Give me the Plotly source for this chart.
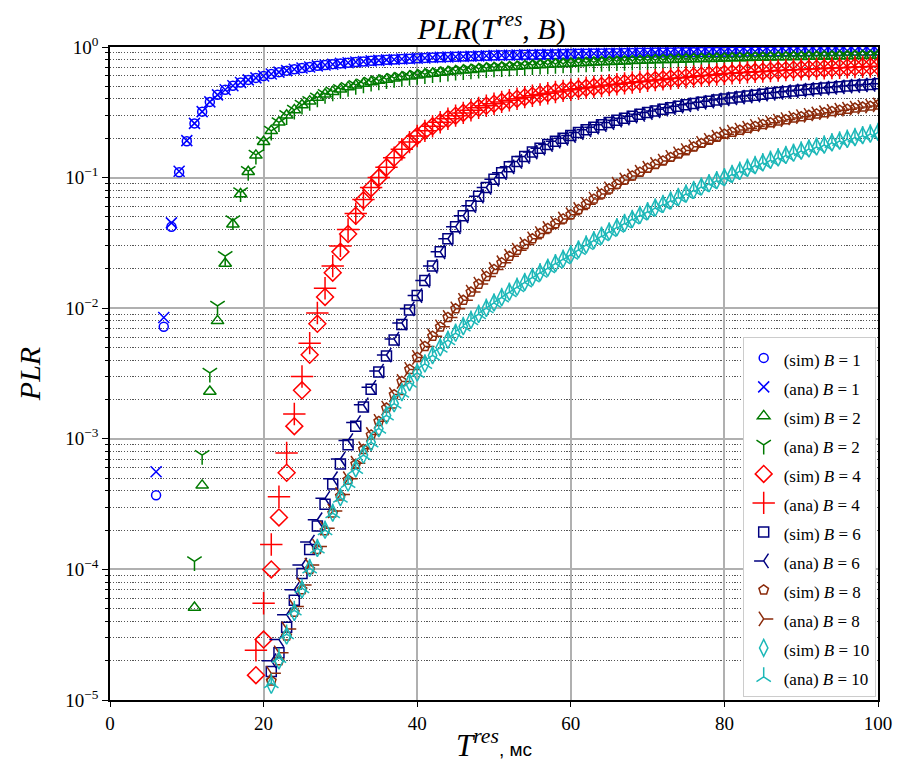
import plotly.graph_objects as go

# ---------------- data ----------------
t_b1 = list(range(6, 101))
t_b2 = list(range(11, 101))
t_b4 = list(range(19, 101))
t_b6 = list(range(21, 101))
t_b8 = list(range(21, 101))
t_b10 = list(range(21, 101))

sim_b1 = [0.00037, 0.0072, 0.042, 0.11, 0.19,
          0.26, 0.32, 0.38, 0.43, 0.47, 0.505, 0.535, 0.56, 0.58, 0.60,
          0.622, 0.642, 0.659, 0.676, 0.691, 0.704, 0.717, 0.728, 0.739, 0.749,
          0.758, 0.767, 0.775, 0.783, 0.790, 0.797, 0.803, 0.809, 0.814, 0.820,
          0.825, 0.830, 0.834, 0.839, 0.843, 0.847, 0.850, 0.854, 0.857, 0.861,
          0.864, 0.866, 0.869, 0.871, 0.873, 0.876, 0.878, 0.880, 0.882, 0.885,
          0.887, 0.889, 0.891, 0.893, 0.895, 0.897, 0.899, 0.901, 0.903, 0.905,
          0.906, 0.908, 0.909, 0.911, 0.912, 0.913, 0.915, 0.916, 0.917, 0.919,
          0.920, 0.921, 0.922, 0.923, 0.924, 0.925, 0.926, 0.927, 0.928, 0.929,
          0.930, 0.931, 0.932, 0.932, 0.933, 0.934, 0.935, 0.935, 0.936, 0.937]
ana_b1 = [0.00056, 0.0085, 0.045, 0.112, 0.192,
          0.26, 0.32, 0.38, 0.43, 0.47, 0.505, 0.535, 0.56, 0.58, 0.60,
          0.622, 0.642, 0.659, 0.676, 0.691, 0.704, 0.717, 0.728, 0.739, 0.749,
          0.758, 0.767, 0.775, 0.783, 0.790, 0.797, 0.803, 0.809, 0.814, 0.820,
          0.825, 0.830, 0.834, 0.839, 0.843, 0.847, 0.850, 0.854, 0.857, 0.861,
          0.864, 0.866, 0.869, 0.871, 0.873, 0.876, 0.878, 0.880, 0.882, 0.885,
          0.887, 0.889, 0.891, 0.893, 0.895, 0.897, 0.899, 0.901, 0.903, 0.905,
          0.906, 0.908, 0.909, 0.911, 0.912, 0.913, 0.915, 0.916, 0.917, 0.919,
          0.920, 0.921, 0.922, 0.923, 0.924, 0.925, 0.926, 0.927, 0.928, 0.929,
          0.930, 0.931, 0.932, 0.932, 0.933, 0.934, 0.935, 0.935, 0.936, 0.937]

sim_b2 = [0.000051, 0.00044, 0.0023, 0.0080, 0.022, 0.044, 0.075, 0.111, 0.148, 0.188,
          0.228, 0.265, 0.300, 0.330, 0.360, 0.385, 0.410, 0.435, 0.455, 0.475,
          0.493, 0.510, 0.525, 0.540, 0.553, 0.565, 0.577, 0.588, 0.598, 0.608,
          0.618, 0.628, 0.637, 0.646, 0.655, 0.663, 0.671, 0.679, 0.687, 0.694,
          0.699, 0.704, 0.710, 0.717, 0.722, 0.728, 0.733, 0.739, 0.744, 0.749,
          0.754, 0.758, 0.763, 0.767, 0.771, 0.775, 0.779, 0.783, 0.787, 0.790,
          0.794, 0.797, 0.800, 0.803, 0.806, 0.809, 0.812, 0.814, 0.817, 0.820,
          0.823, 0.825, 0.828, 0.830, 0.832, 0.834, 0.837, 0.839, 0.841, 0.843,
          0.845, 0.847, 0.849, 0.850, 0.852, 0.854, 0.856, 0.857, 0.859, 0.861]
ana_b2 = [0.000115, 0.00075, 0.0032, 0.0104, 0.025, 0.047, 0.077, 0.112, 0.149, 0.189,
          0.228, 0.265, 0.300, 0.330, 0.360, 0.385, 0.410, 0.435, 0.455, 0.475,
          0.493, 0.510, 0.525, 0.540, 0.553, 0.565, 0.577, 0.588, 0.598, 0.608,
          0.618, 0.628, 0.637, 0.646, 0.655, 0.663, 0.671, 0.679, 0.687, 0.694,
          0.699, 0.704, 0.710, 0.717, 0.722, 0.728, 0.733, 0.739, 0.744, 0.749,
          0.754, 0.758, 0.763, 0.767, 0.771, 0.775, 0.779, 0.783, 0.787, 0.790,
          0.794, 0.797, 0.800, 0.803, 0.806, 0.809, 0.812, 0.814, 0.817, 0.820,
          0.823, 0.825, 0.828, 0.830, 0.832, 0.834, 0.837, 0.839, 0.841, 0.843,
          0.845, 0.847, 0.849, 0.850, 0.852, 0.854, 0.856, 0.857, 0.859, 0.861]

sim_b4 = [0.0000155, 0.000029,
          0.00010, 0.00025, 0.00055, 0.00125, 0.00235, 0.0044, 0.0076, 0.0122, 0.0187, 0.027,
          0.037, 0.051, 0.067, 0.083, 0.100, 0.120, 0.142, 0.165, 0.187, 0.208,
          0.228, 0.247, 0.265, 0.282, 0.298, 0.313, 0.328, 0.342, 0.355, 0.368,
          0.380, 0.391, 0.402, 0.413, 0.423, 0.433, 0.443, 0.452, 0.461, 0.470,
          0.478, 0.487, 0.495, 0.503, 0.511, 0.519, 0.527, 0.535, 0.542, 0.550,
          0.558, 0.565, 0.573, 0.580, 0.587, 0.595, 0.602, 0.609, 0.616, 0.623,
          0.629, 0.635, 0.640, 0.645, 0.650, 0.655, 0.660, 0.665, 0.670, 0.674,
          0.678, 0.682, 0.686, 0.690, 0.694, 0.698, 0.702, 0.705, 0.708, 0.712]
ana_b4 = [0.000024, 0.000055,
          0.000155, 0.00036, 0.00078, 0.00155, 0.0030, 0.0054, 0.0092, 0.0142, 0.021, 0.030,
          0.040, 0.053, 0.068, 0.084, 0.100, 0.120, 0.142, 0.165, 0.187, 0.208,
          0.228, 0.247, 0.265, 0.282, 0.298, 0.313, 0.328, 0.342, 0.355, 0.368,
          0.380, 0.391, 0.402, 0.413, 0.423, 0.433, 0.443, 0.452, 0.461, 0.470,
          0.478, 0.487, 0.495, 0.503, 0.511, 0.519, 0.527, 0.535, 0.542, 0.550,
          0.558, 0.565, 0.573, 0.580, 0.587, 0.595, 0.602, 0.609, 0.616, 0.623,
          0.629, 0.635, 0.640, 0.645, 0.650, 0.655, 0.660, 0.665, 0.670, 0.674,
          0.678, 0.682, 0.686, 0.690, 0.694, 0.698, 0.702, 0.705, 0.708, 0.712]

sim_b6 = [0.0000165, 0.000023, 0.000036, 0.000058, 0.000093, 0.000142, 0.000215, 0.000315, 0.00045, 0.00064,
          0.0009, 0.00125, 0.00175, 0.0024, 0.00325, 0.0043, 0.0057, 0.0075, 0.0097, 0.0125,
          0.0163, 0.021, 0.027, 0.034, 0.042, 0.051, 0.061, 0.072, 0.084, 0.097,
          0.109, 0.121, 0.133, 0.145, 0.157, 0.168, 0.179, 0.190, 0.200, 0.210,
          0.221, 0.232, 0.243, 0.254, 0.264, 0.275, 0.285, 0.295, 0.305, 0.315,
          0.324, 0.334, 0.343, 0.352, 0.361, 0.369, 0.377, 0.385, 0.393, 0.400,
          0.407, 0.414, 0.421, 0.428, 0.435, 0.442, 0.449, 0.455, 0.461, 0.467,
          0.473, 0.479, 0.485, 0.490, 0.496, 0.502, 0.507, 0.512, 0.517, 0.522]
ana_b6 = [0.000020, 0.000029, 0.000045, 0.000070, 0.000108, 0.000162, 0.00024, 0.00035, 0.000495, 0.0007,
          0.00097, 0.00133, 0.00182, 0.00248, 0.0033, 0.00438, 0.0058, 0.0077, 0.0099, 0.0125,
          0.0163, 0.021, 0.027, 0.034, 0.042, 0.051, 0.061, 0.072, 0.084, 0.097,
          0.109, 0.121, 0.133, 0.145, 0.157, 0.168, 0.179, 0.190, 0.200, 0.210,
          0.221, 0.232, 0.243, 0.254, 0.264, 0.275, 0.285, 0.295, 0.305, 0.315,
          0.324, 0.334, 0.343, 0.352, 0.361, 0.369, 0.377, 0.385, 0.393, 0.400,
          0.407, 0.414, 0.421, 0.428, 0.435, 0.442, 0.449, 0.455, 0.461, 0.467,
          0.473, 0.479, 0.485, 0.490, 0.496, 0.502, 0.507, 0.512, 0.517, 0.522]

sim_b8 = [0.000014, 0.000020, 0.000031, 0.000047, 0.000070, 0.00010, 0.000142, 0.000198, 0.00027, 0.000365,
          0.000485, 0.00064, 0.00083, 0.00107, 0.00136, 0.00172, 0.00218, 0.00275, 0.0034, 0.0042,
          0.0051, 0.0061, 0.0072, 0.0085, 0.0099, 0.0115, 0.0133, 0.0153, 0.0175, 0.0198,
          0.0223, 0.025, 0.0278, 0.0308, 0.034, 0.0373, 0.0408, 0.0444, 0.0482, 0.052,
          0.057, 0.0625, 0.0685, 0.075, 0.082, 0.089, 0.096, 0.103, 0.110, 0.118,
          0.126, 0.134, 0.143, 0.152, 0.161, 0.172, 0.183, 0.193, 0.204, 0.215,
          0.223, 0.231, 0.239, 0.247, 0.255, 0.263, 0.271, 0.278, 0.286, 0.293,
          0.300, 0.307, 0.314, 0.321, 0.328, 0.334, 0.341, 0.347, 0.353, 0.360]
ana_b8 = [0.000016, 0.000023, 0.000035, 0.000052, 0.000076, 0.000108, 0.00015, 0.000207, 0.00028, 0.000375,
          0.000495, 0.00065, 0.00084, 0.00108, 0.00136, 0.00172, 0.00218, 0.00275, 0.0034, 0.0042,
          0.0051, 0.0061, 0.0072, 0.0085, 0.0099, 0.0115, 0.0133, 0.0153, 0.0175, 0.0198,
          0.0223, 0.025, 0.0278, 0.0308, 0.034, 0.0373, 0.0408, 0.0444, 0.0482, 0.052,
          0.057, 0.0625, 0.0685, 0.075, 0.082, 0.089, 0.096, 0.103, 0.110, 0.118,
          0.126, 0.134, 0.143, 0.152, 0.161, 0.172, 0.183, 0.193, 0.204, 0.215,
          0.223, 0.231, 0.239, 0.247, 0.255, 0.263, 0.271, 0.278, 0.286, 0.293,
          0.300, 0.307, 0.314, 0.321, 0.328, 0.334, 0.341, 0.347, 0.353, 0.360]

sim_b10 = [0.000013, 0.000020, 0.000031, 0.000047, 0.000070, 0.000102, 0.000145, 0.00020, 0.00027, 0.000355,
           0.00046, 0.00059, 0.00075, 0.00094, 0.0012, 0.00151, 0.00186, 0.00226, 0.0027, 0.0032,
           0.00375, 0.00435, 0.0050, 0.0057, 0.00645, 0.00725, 0.0081, 0.0090, 0.0100, 0.0110,
           0.0121, 0.0133, 0.0145, 0.0158, 0.0172, 0.0187, 0.0203, 0.0220, 0.0238, 0.0257,
           0.028, 0.0305, 0.033, 0.0357, 0.0385, 0.0415, 0.0447, 0.048, 0.0515, 0.055,
           0.0587, 0.0625, 0.0665, 0.0706, 0.075, 0.080, 0.085, 0.090, 0.095, 0.100,
           0.106, 0.112, 0.118, 0.124, 0.130, 0.136, 0.142, 0.148, 0.154, 0.160,
           0.166, 0.172, 0.178, 0.185, 0.191, 0.197, 0.203, 0.210, 0.216, 0.222]
ana_b10 = [0.0000135, 0.000021, 0.000032, 0.0000485, 0.000072, 0.000102, 0.000145, 0.00020, 0.00027, 0.000355,
           0.00046, 0.00059, 0.00075, 0.00094, 0.0012, 0.00151, 0.00186, 0.00226, 0.0027, 0.0032,
           0.00375, 0.00435, 0.0050, 0.0057, 0.00645, 0.00725, 0.0081, 0.0090, 0.0100, 0.0110,
           0.0121, 0.0133, 0.0145, 0.0158, 0.0172, 0.0187, 0.0203, 0.0220, 0.0238, 0.0257,
           0.028, 0.0305, 0.033, 0.0357, 0.0385, 0.0415, 0.0447, 0.048, 0.0515, 0.055,
           0.0587, 0.0625, 0.0665, 0.0706, 0.075, 0.080, 0.085, 0.090, 0.095, 0.100,
           0.106, 0.112, 0.118, 0.124, 0.130, 0.136, 0.142, 0.148, 0.154, 0.160,
           0.166, 0.172, 0.178, 0.185, 0.191, 0.197, 0.203, 0.210, 0.216, 0.222]

x_ticks = [0, 20, 40, 60, 80, 100]
y_ticks = [1e-5, 1e-4, 1e-3, 1e-2, 1e-1, 1]
y_tick_labels = ["10<sup>−5</sup>", "10<sup>−4</sup>", "10<sup>−3</sup>",
                 "10<sup>−2</sup>", "10<sup>−1</sup>", "10<sup>0</sup>"]

# ---------------- styling ----------------
series = [
    ("(sim)", "1", t_b1, sim_b1, "circle-open", 9, "#0000FF"),
    ("(ana)", "1", t_b1, ana_b1, "x-thin-open", 11, "#0000FF"),
    ("(sim)", "2", t_b2, sim_b2, "triangle-up-open", 11, "#007A00"),
    ("(ana)", "2", t_b2, ana_b2, "y-down-open", 12, "#007A00"),
    ("(sim)", "4", t_b4, sim_b4, "diamond-open", 13, "#FF0000"),
    ("(ana)", "4", t_b4, ana_b4, "cross-thin-open", 16, "#FF0000"),
    ("(sim)", "6", t_b6, sim_b6, "square-open", 10, "#000080"),
    ("(ana)", "6", t_b6, ana_b6, "y-left-open", 12, "#000080"),
    ("(sim)", "8", t_b8, sim_b8, "pentagon-open", 10, "#8B2A0A"),
    ("(ana)", "8", t_b8, ana_b8, "y-right-open", 12, "#8B2A0A"),
    ("(sim)", "10", t_b10, sim_b10, "diamond-tall-open", 12, "#1CB8B8"),
    ("(ana)", "10", t_b10, ana_b10, "y-up-open", 12, "#1CB8B8"),
]

serif = "Liberation Serif"
fig = go.Figure()
for kind, b, xs, ys, sym, sz, col in series:
    fig.add_trace(go.Scatter(
        x=xs, y=ys, mode="markers",
        name=f'<span style="font-size:17px">{kind} <i>B</i> = {b}</span>',
        marker=dict(symbol=sym, size=sz, color=col,
                    line=dict(color=col, width=1.5)),
    ))

minor_vals = [m * 10.0 ** e for e in range(-5, 0) for m in range(2, 10)]

fig.update_layout(
    width=897, height=767,
    margin=dict(l=110, r=19, t=47, b=67),
    paper_bgcolor="white", plot_bgcolor="white",
    font=dict(family=serif, size=17, color="black"),
    title=dict(text="<i>PLR</i>(<i>T</i><sup><i>res</i></sup>, <i>B</i>)",
               x=0.548, xanchor="center", y=0.963, yanchor="middle",
               font=dict(family=serif, size=30)),
    showlegend=True,
    legend=dict(x=0.997, xanchor="right", y=0.004, yanchor="bottom",
                bgcolor="white", bordercolor="#cccccc", borderwidth=1,
                font=dict(family=serif, size=20),
                itemclick=False),
    xaxis=dict(range=[0, 100], tickvals=x_ticks, ticks="outside", ticklen=5,
               tickwidth=1.3, tickcolor="black",
               showgrid=True, gridcolor="#b0b0b0", gridwidth=1.5,
               showline=True, mirror=True, linecolor="black", linewidth=1.5,
               zeroline=False, tickfont=dict(size=19, family=serif),
               title=dict(text="<i>T</i><sup><i>res</i></sup>"
                               "<span style=\"font-family:'Liberation Sans';font-size:19px\">, мс</span>",
                          font=dict(size=31, family=serif), standoff=2),
               automargin=False),
    yaxis=dict(type="log", range=[-5, 0], tickvals=y_ticks, ticktext=y_tick_labels,
               ticks="outside", ticklen=6, tickwidth=1.3, tickcolor="black",
               showgrid=True, gridcolor="#b0b0b0", gridwidth=1.5,
               showline=True, mirror=True, linecolor="black", linewidth=1.5,
               zeroline=False, tickfont=dict(size=19, family=serif),
               minor=dict(tickvals=minor_vals, showgrid=True, gridcolor="#555555",
                          griddash="1.2px,1.6px", gridwidth=1, ticks="outside", ticklen=3,
                          tickcolor="black"),
               title=dict(text="<i>PLR</i>", font=dict(size=30, family=serif), standoff=16),
               automargin=False),
)

fig.write_html("out.html",
               config={"displayModeBar": False},
               post_script="document.body.style.margin='0';"
                           "document.body.style.overflow='hidden';")
